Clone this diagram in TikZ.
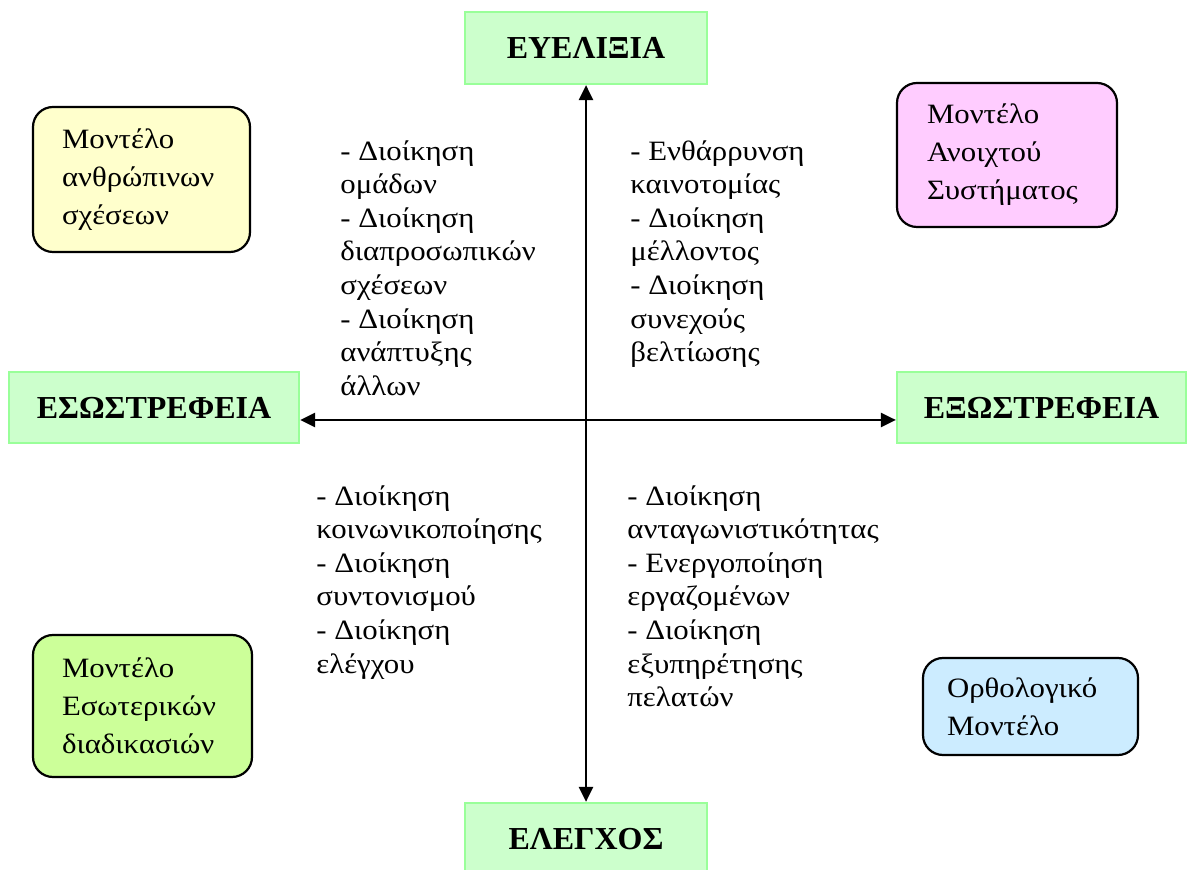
\documentclass[tikz,border=0pt]{standalone}
\usepackage{fontspec}
\setmainfont{Liberation Serif}
\newfontfamily\bodyfont{Liberation Serif}[FakeStretch=1.1]
\usetikzlibrary{arrows.meta}
\definecolor{axisfill}{HTML}{CCFFCC}
\definecolor{axisline}{HTML}{99FF99}
\definecolor{humanfill}{HTML}{FFFFCC}
\definecolor{openfill}{HTML}{FFCCFF}
\definecolor{internalfill}{HTML}{CCFF99}
\definecolor{rationalfill}{HTML}{CCECFF}
\begin{document}
\begin{tikzpicture}[x=0.5pt,y=-0.5pt,
  axisbox/.style={draw=axisline, line width=1.1pt, fill=axisfill, inner sep=0pt,
    font=\fontsize{16}{19}\selectfont\bfseries},
  modelbox/.style={draw=black, line width=1.1pt, rounded corners=10pt, inner ysep=0pt,
    inner xsep=14.5pt, align=left, font=\bodyfont\fontsize{14}{19}\selectfont},
  quadtext/.style={anchor=north west, inner sep=0pt, align=left,
    font=\bodyfont\fontsize{14}{16.8}\selectfont},
  axisarrow/.style={line width=1.3pt, {Triangle[length=7.5pt,width=7pt]}-{Triangle[length=7.5pt,width=7pt]}}]
\useasboundingbox (0,0) rectangle (1188,870);
\clip (0,0) rectangle (1188,870);

% axis labels
\node[axisbox, minimum width=121pt, minimum height=36pt] (flex) at (586,48) {ΕΥΕΛΙΞΙΑ};
\node[axisbox, minimum width=121pt, minimum height=36pt] (ctrl) at (586,839) {ΕΛΕΓΧΟΣ};
\node[axisbox, minimum width=145pt, minimum height=35.5pt] (intro) at (154,407.5) {ΕΣΩΣΤΡΕΦΕΙΑ\hspace{6pt}};
\node[axisbox, minimum width=144.5pt, minimum height=35.5pt] (extro) at (1041.5,407.5) {ΕΞΩΣΤΡΕΦΕΙΑ\hspace{4pt}};

% axes
\coordinate (haxis) at (0,420);
\draw[axisarrow] (flex.south) -- (ctrl.north);
\draw[axisarrow] (intro.east |- haxis) -- (extro.west |- haxis);

% organisational models
\node[modelbox, fill=humanfill, text width=79.5pt, minimum height=72.5pt] (human) at (141.5,179.5)
  {Μοντέλο\\ανθρώπινων\\σχέσεων};
\node[modelbox, fill=openfill, text width=80pt, minimum height=72pt, inner xsep=15pt] (open) at (1007,155)
  {Μοντέλο\\Ανοιχτού\\Συστήματος};
\node[modelbox, fill=internalfill, text width=80.5pt, minimum height=71pt] (internal) at (142.5,706)
  {Μοντέλο\\Εσωτερικών\\διαδικασιών};
\node[modelbox, fill=rationalfill, text width=83.5pt, minimum height=48.5pt, inner xsep=12pt] (rational) at (1030.5,706.5)
  {Ορθολογικό\\Μοντέλο};

% management roles per quadrant
\node[quadtext] (tl) at (340,140)
  {- Διοίκηση\\ομάδων\\- Διοίκηση\\διαπροσωπικών\\σχέσεων\\- Διοίκηση\\ανάπτυξης\\άλλων};
\node[quadtext] (tr) at (630,140)
  {- Ενθάρρυνση\\καινοτομίας\\- Διοίκηση\\μέλλοντος\\- Διοίκηση\\συνεχούς\\βελτίωσης};
\node[quadtext] (bl) at (316,485)
  {- Διοίκηση\\κοινωνικοποίησης\\- Διοίκηση\\συντονισμού\\- Διοίκηση\\ελέγχου};
\node[quadtext] (br) at (627,485)
  {- Διοίκηση\\ανταγωνιστικότητας\\- Ενεργοποίηση\\εργαζομένων\\- Διοίκηση\\εξυπηρέτησης\\πελατών};
\end{tikzpicture}
\end{document}
